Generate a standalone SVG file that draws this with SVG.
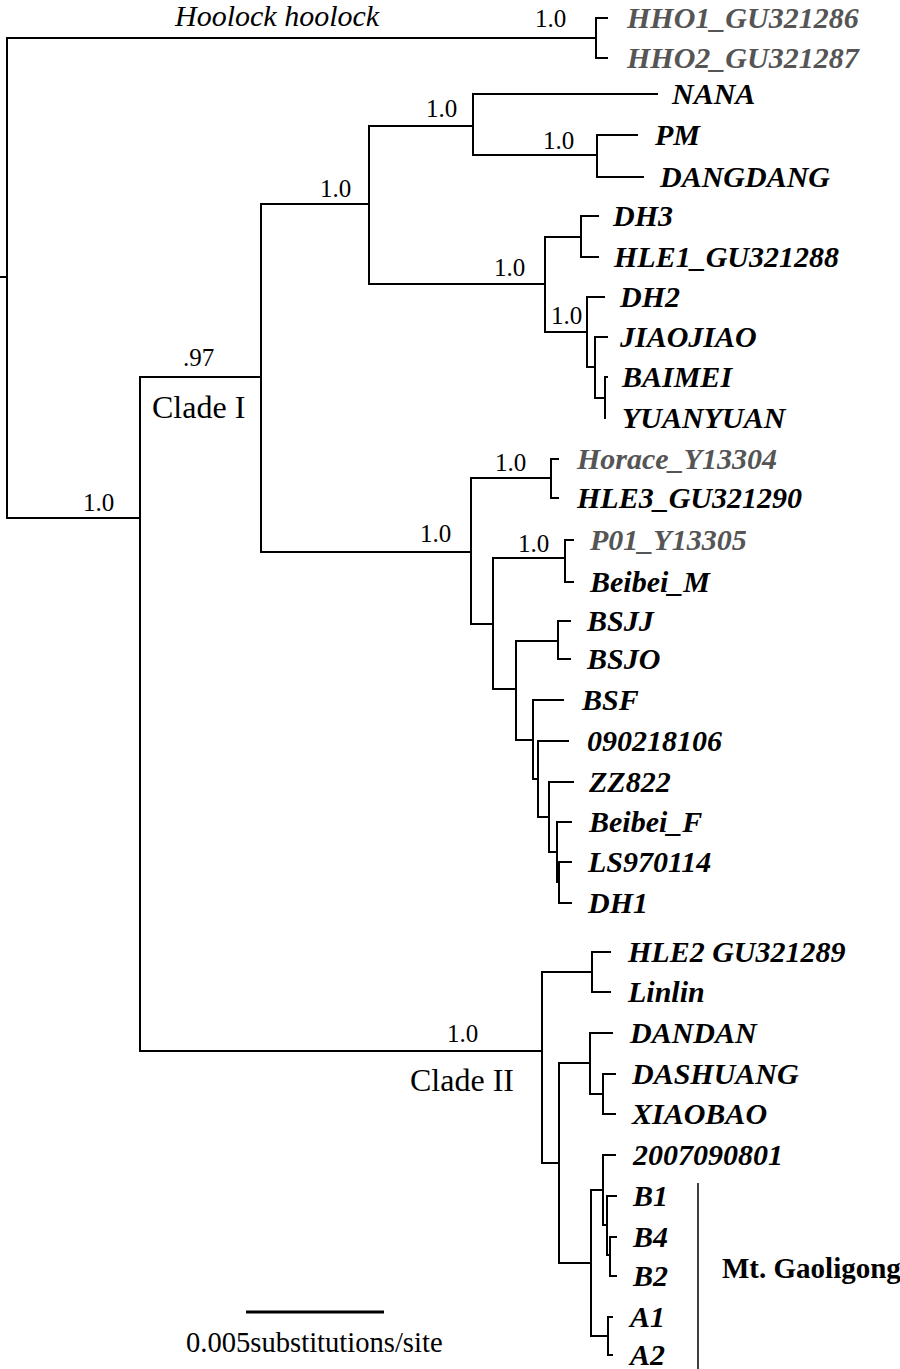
<svg xmlns="http://www.w3.org/2000/svg" width="900" height="1369" viewBox="0 0 900 1369">
<style>
.br{fill:none;stroke:#000;stroke-width:2;stroke-linecap:square}
.lf{font-family:"Liberation Serif","Times New Roman",serif;font-weight:bold;font-style:italic;font-size:30px;fill:#000}
.gr{fill:#555}
.sp{font-family:"Liberation Serif","Times New Roman",serif;font-size:25px;fill:#000}
.cl{font-family:"Liberation Serif","Times New Roman",serif;font-size:32px;fill:#000}
.sc{font-family:"Liberation Serif","Times New Roman",serif;font-size:28.6px;fill:#000}
</style>
<rect width="900" height="1369" fill="#fff"/>
<g id="connectors" class="br">
<path d="M0,277H7M7,38V518M7,38H596M596,18V58M596,18H607M596,58H607"/>
<path d="M7,518H140M140,377V1051M140,377H261M261,204V552"/>
<path d="M261,204H369M369,126V284M369,126H473M473,94V155M473,94H657M473,155H597M597,135V177M597,135H637M597,177H643"/>
<path d="M369,284H545M545,237V332M545,237H581M581,216V257M581,216H598M581,257H598M545,332H587M587,297V367M587,297H604M587,367H595M595,337V398M595,337H607M595,398H605M605,377V418M605,377H607"/>
<path d="M261,552H471M471,478V624M471,478H551M551,459V498M551,459H558M551,498H558M471,624H493M493,558V689M493,558H565M565,540V582M565,540H573M565,582H573"/>
<path d="M493,689H516M516,641V740M516,641H558M558,621V659M558,621H570M558,659H570M516,740H533M533,700V779M533,700H563M533,779H538M538,741V817M538,741H568M538,817H549M549,782V852M549,782H573M549,852H557M557,822V882M557,822H571M557,882H559M559,862V903M559,862H571M559,903H571"/>
<path d="M140,1051H542M542,972V1163M542,972H592M592,952V992M592,952H610M592,992H610M542,1163H559M559,1063V1263M559,1063H590M590,1033V1094M590,1033H612M590,1094H603M603,1074V1114M603,1074H615M603,1114H615"/>
<path d="M559,1263H591M591,1190V1336M591,1190H603M603,1155V1225M603,1155H615M603,1225H607M607,1196V1255M607,1196H616M607,1255H610M610,1237V1276M610,1237H616M610,1276H616M591,1336H608M608,1317V1355M608,1317H612M608,1355H612"/>
</g>
<g id="scalebar"><path d="M246,1312H384" stroke="#000" stroke-width="3"/><text class="sc" x="186" y="1352">0.005substitutions/site</text></g>
<g id="mt-gaoligong"><path d="M698,1183V1369" stroke="#000" stroke-width="1.5"/><text x="722" y="1278" font-family="Liberation Serif, serif" font-weight="bold" font-size="29">Mt. Gaoligong</text></g>
<g id="labels-clades">
<text id="hoolock" x="175" y="26" font-family="Liberation Serif, serif" font-style="italic" font-size="30">Hoolock hoolock</text>
<text id="clade1" class="cl" x="152" y="418">Clade I</text>
<text id="clade2" class="cl" x="410" y="1091">Clade II</text>
</g>
<g id="support" class="sp">
<text x="535" y="27">1.0</text>
<text x="426" y="117">1.0</text>
<text x="543" y="149">1.0</text>
<text x="320" y="197">1.0</text>
<text x="494" y="276">1.0</text>
<text x="551" y="324">1.0</text>
<text x="183" y="366">.97</text>
<text x="83" y="511">1.0</text>
<text x="495" y="471">1.0</text>
<text x="420" y="542">1.0</text>
<text x="518" y="552">1.0</text>
<text x="447" y="1042">1.0</text>
</g>
<g class="lf">
<g id="HHO1"><text class="gr" x="627" y="28">HHO1_GU321286</text></g>
<g id="HHO2"><text class="gr" x="627" y="68">HHO2_GU321287</text></g>
<g id="NANA"><text x="672" y="104">NANA</text></g>
<g id="PM"><text x="655" y="145">PM</text></g>
<g id="DANGDANG"><text x="660" y="187">DANGDANG</text></g>
<g id="DH3"><text x="613" y="226">DH3</text></g>
<g id="HLE1"><text x="614" y="267">HLE1_GU321288</text></g>
<g id="DH2"><text x="620" y="307">DH2</text></g>
<g id="JIAOJIAO"><text x="620" y="347">JIAOJIAO</text></g>
<g id="BAIMEI"><text x="622" y="387">BAIMEI</text></g>
<g id="YUANYUAN"><text x="622" y="428">YUANYUAN</text></g>
<g id="Horace"><text class="gr" x="577" y="469">Horace_Y13304</text></g>
<g id="HLE3"><text x="577" y="508">HLE3_GU321290</text></g>
<g id="P01"><text class="gr" x="590" y="550">P01_Y13305</text></g>
<g id="Beibei_M"><text x="590" y="592">Beibei_M</text></g>
<g id="BSJJ"><text x="587" y="631">BSJJ</text></g>
<g id="BSJO"><text x="587" y="669">BSJO</text></g>
<g id="BSF"><text x="582" y="710">BSF</text></g>
<g id="n090218106"><text x="587" y="751">090218106</text></g>
<g id="ZZ822"><text x="589" y="792">ZZ822</text></g>
<g id="Beibei_F"><text x="589" y="832">Beibei_F</text></g>
<g id="LS970114"><text x="588" y="872">LS970114</text></g>
<g id="DH1"><text x="588" y="913">DH1</text></g>
<g id="HLE2"><text x="628" y="962">HLE2 GU321289</text></g>
<g id="Linlin"><text x="628" y="1002">Linlin</text></g>
<g id="DANDAN"><text x="630" y="1043">DANDAN</text></g>
<g id="DASHUANG"><text x="632" y="1084">DASHUANG</text></g>
<g id="XIAOBAO"><text x="632" y="1124">XIAOBAO</text></g>
<g id="n2007090801"><text x="633" y="1165">2007090801</text></g>
<g id="B1"><text x="633" y="1206">B1</text></g>
<g id="B4"><text x="633" y="1247">B4</text></g>
<g id="B2"><text x="633" y="1286">B2</text></g>
<g id="A1"><text x="630" y="1327">A1</text></g>
<g id="A2"><text x="630" y="1365">A2</text></g>
</g>
</svg>
